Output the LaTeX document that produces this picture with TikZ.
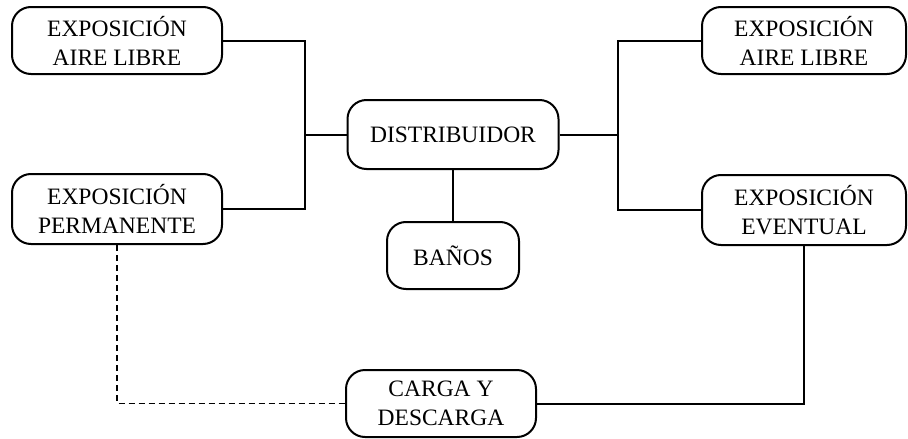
\documentclass[tikz,border=0pt]{standalone}
\usepackage{fontspec}
\setmainfont{Liberation Serif}
\begin{document}
\begin{tikzpicture}[x=1pt,y=-1pt,
  room/.style={draw,line width=2pt,rounded corners=19pt,inner sep=0pt,
    align=center,font=\fontsize{23.5}{29}\selectfont},
  link/.style={line width=2pt},
  dlink/.style={line width=1.8pt,dash pattern=on 6pt off 4pt}]
\useasboundingbox (0,0) rectangle (908,439);
\node[room,minimum width=210pt,minimum height=67pt] (A1) at (117,40.5) {EXPOSICIÓN\\AIRE LIBRE};
\node[room,minimum width=210pt,minimum height=70pt] (A2) at (117,209) {EXPOSICIÓN\\PERMANENTE};
\node[room,minimum width=211pt,minimum height=69pt] (D) at (453,134.5) {DISTRIBUIDOR};
\node[room,minimum width=132pt,minimum height=67pt] (B) at (453,255.5) {BAÑOS};
\node[room,minimum width=204pt,minimum height=67pt] (B1) at (804,40.5) {EXPOSICIÓN\\AIRE LIBRE};
\node[room,minimum width=204pt,minimum height=70pt] (B2) at (804,210) {EXPOSICIÓN\\EVENTUAL};
\node[room,minimum width=190pt,minimum height=67pt] (C) at (441,403.5) {CARGA Y\\DESCARGA};
\coordinate (L) at (305,0);
\coordinate (R) at (618,0);
\draw[link] (A1.east) -- (A1.east -| L) -- (A2.east -| L) -- (A2.east);
\draw[link] (D.west) -- (D.west -| L);
\draw[link] (B1.west) -- (B1.west -| R) -- (B2.west -| R) -- (B2.west);
\draw[link] (D.east) -- (D.east -| R);
\draw[link] (D.south) -- (B.north);
\draw[link] (C.east) -| (B2.south);
\draw[dlink] (A2.south) |- (C.west);
\end{tikzpicture}
\end{document}
